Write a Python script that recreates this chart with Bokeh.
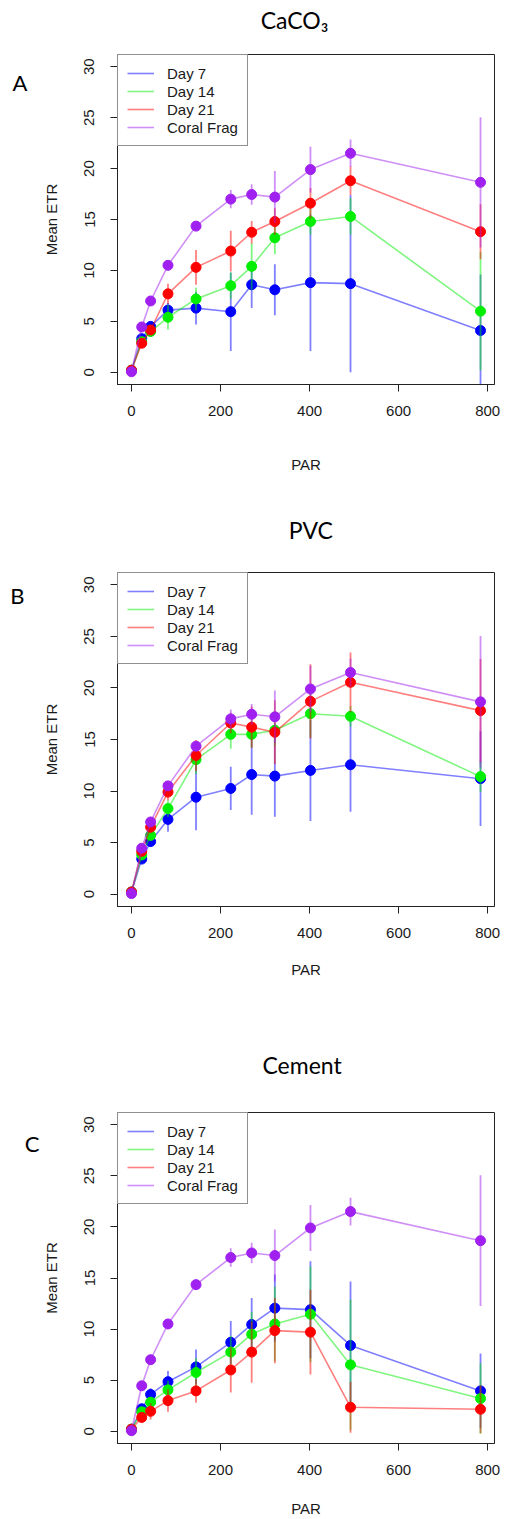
from bokeh.plotting import figure
from bokeh.models import Range1d, Legend, LegendItem, FixedTicker, LinearAxis
from bokeh.layouts import column
from bokeh.embed import file_html
from bokeh.resources import INLINE

# ---------------- data ----------------
PAR = [0, 23, 43, 82, 145, 223, 270, 322, 402, 492, 784]

coral = [0.05, 4.45, 7.0, 10.5, 14.35, 17.0, 17.45, 17.2, 19.9, 21.5, 18.65]
coral_sd = [0.05, 0.3, 0.3, 0.3, 0.3, 0.9, 1.0, 2.55, 2.25, 1.35, 6.4]

caco3_d7 = [0.2, 3.3, 4.5, 6.1, 6.3, 5.95, 8.6, 8.1, 8.8, 8.7, 4.1]
caco3_d7_sd = [0.1, 0.4, 0.5, 0.7, 1.6, 3.85, 2.3, 2.5, 6.7, 8.7, 5.5]
caco3_d14 = [0.2, 3.0, 4.0, 5.4, 7.2, 8.5, 10.4, 13.2, 14.8, 15.3, 6.0]
caco3_d14_sd = [0.1, 0.5, 0.5, 1.2, 1.1, 1.3, 2.3, 1.6, 1.3, 1.8, 5.8]
caco3_d21 = [0.2, 2.85, 4.15, 7.7, 10.3, 11.9, 13.75, 14.8, 16.6, 18.8, 13.8]
caco3_d21_sd = [0.1, 0.4, 0.4, 1.0, 1.7, 2.0, 1.1, 1.3, 1.5, 1.4, 2.7]

pvc_d7 = [0.2, 3.4, 5.1, 7.25, 9.4, 10.25, 11.6, 11.45, 12.0, 12.55, 11.2]
pvc_d7_sd = [0.1, 0.4, 0.5, 1.2, 3.2, 2.1, 3.9, 3.95, 4.9, 4.55, 4.6]
pvc_d14 = [0.2, 3.8, 5.7, 8.3, 13.05, 15.5, 15.5, 15.9, 17.5, 17.25, 11.4]
pvc_d14_sd = [0.1, 0.4, 0.5, 0.8, 1.4, 1.4, 1.3, 1.5, 2.3, 1.0, 1.5]
pvc_d21 = [0.2, 4.15, 6.5, 9.9, 13.45, 16.6, 16.2, 15.7, 18.7, 20.55, 17.8]
pvc_d21_sd = [0.1, 0.4, 0.6, 0.8, 1.5, 1.0, 2.0, 3.1, 3.6, 2.9, 5.0]

cem_d7 = [0.2, 2.2, 3.6, 4.85, 6.3, 8.7, 10.45, 12.05, 11.9, 8.4, 3.95]
cem_d7_sd = [0.1, 0.4, 0.6, 1.05, 1.7, 2.1, 2.6, 3.3, 4.75, 6.25, 3.65]
cem_d14 = [0.2, 1.9, 2.85, 4.05, 5.75, 7.75, 9.5, 10.5, 11.45, 6.5, 3.2]
cem_d14_sd = [0.1, 0.4, 0.5, 0.9, 1.4, 1.6, 2.2, 3.65, 4.7, 6.4, 3.45]
cem_d21 = [0.2, 1.35, 1.95, 3.0, 3.95, 6.0, 7.75, 9.85, 9.7, 2.35, 2.15]
cem_d21_sd = [0.1, 0.4, 0.8, 1.1, 1.15, 2.2, 3.0, 3.2, 4.15, 2.5, 2.35]

series_names = ["Day 7", "Day 14", "Day 21", "Coral Frag"]
series_colors = ["#0000FF", "#00EE00", "#FF0000", "#A020F0"]
x_ticks = [0, 200, 400, 600, 800]
y_ticks = [0, 5, 10, 15, 20, 25, 30]

X0, X1 = -31.4, 815.4
Y0, Y1 = -1.2, 31.2

FONT = "Liberation Sans"
TFONT = "Lato"
TXT = "#1a1a1a"
W = 508


def make_panel(H, page_top, frame, title, title_pos, title_standoff,
               letter, letter_pos, letter_standoff, data, par_standoff):
    fl, fr, ft, fb = frame  # frame edges in page coordinates
    p = figure(width=W, height=H, output_backend="svg", toolbar_location=None,
               x_range=Range1d(X0, X1), y_range=Range1d(Y0, Y1),
               min_border_left=fl, min_border_right=W - fr,
               min_border_top=ft - page_top, min_border_bottom=page_top + H - fb)
    p.title.visible = False
    p.grid.visible = False
    p.outline_line_color = "#222222"
    p.outline_line_width = 1
    p.background_fill_color = "white"
    p.border_fill_color = "white"

    p.xaxis.ticker = FixedTicker(ticks=x_ticks)
    p.yaxis.ticker = FixedTicker(ticks=y_ticks)
    for ax in (p.xaxis[0], p.yaxis[0]):
        ax.axis_line_color = "#222222"
        ax.major_tick_line_color = "#222222"
        ax.major_tick_out = 7
        ax.major_tick_in = 0
        ax.minor_tick_out = 0
        ax.minor_tick_in = 0
        ax.major_label_text_font = FONT
        ax.major_label_text_font_size = "15px"
        ax.major_label_text_color = TXT
        ax.axis_label_text_font = FONT
        ax.axis_label_text_font_size = "15px"
        ax.axis_label_text_font_style = "normal"
        ax.axis_label_text_color = TXT
    p.xaxis.major_label_standoff = 14
    p.yaxis.major_label_standoff = 16
    p.yaxis.major_label_orientation = "vertical"
    p.xaxis.axis_label = "PAR"
    p.yaxis.axis_label = "Mean ETR"
    p.xaxis.axis_label_standoff = par_standoff
    p.yaxis.axis_label_standoff = 22

    # panel title (centred text above the frame)
    tx_data = X0 + (title_pos[0] - fl) * (X1 - X0) / (fr - fl)
    tax = LinearAxis(ticker=FixedTicker(ticks=[tx_data]),
                     major_label_overrides={tx_data: title},
                     axis_line_color=None, major_tick_line_color=None,
                     minor_tick_line_color=None, major_tick_out=0, major_tick_in=0,
                     minor_tick_out=0, minor_tick_in=0,
                     major_label_standoff=title_standoff,
                     major_label_text_font=TFONT, major_label_text_font_size="23px",
                     major_label_text_color="black")
    p.add_layout(tax, "above")

    # panel letter (left of the y axis)
    ly_data = Y0 + (fb - letter_pos[1]) * (Y1 - Y0) / (fb - ft)
    lax = LinearAxis(ticker=FixedTicker(ticks=[ly_data]),
                     major_label_overrides={ly_data: letter},
                     axis_line_color=None, major_tick_line_color=None,
                     minor_tick_line_color=None, major_tick_out=0, major_tick_in=0,
                     minor_tick_out=0, minor_tick_in=0,
                     major_label_standoff=letter_standoff,
                     major_label_orientation="horizontal",
                     major_label_text_font=TFONT, major_label_text_font_size="22px",
                     major_label_text_color="black")
    p.add_layout(lax, "left")

    items = []
    for name, col, (ys, sd) in zip(series_names, series_colors, data):
        lo = [y - s for y, s in zip(ys, sd)]
        hi = [y + s for y, s in zip(ys, sd)]
        r = p.line(PAR, ys, line_color=col, line_alpha=0.5, line_width=1.6)
        p.segment(x0=PAR, y0=lo, x1=PAR, y1=hi, line_color=col, line_alpha=0.5,
                  line_width=1.8)
        p.scatter(PAR, ys, size=10, fill_color=col, line_color=col)
        items.append(LegendItem(label=name, renderers=[r]))

    leg = Legend(items=items, location="top_left", margin=0, padding=9,
                 spacing=0, label_height=18, glyph_height=18, glyph_width=27,
                 label_standoff=13, label_text_font=FONT,
                 label_text_font_size="15px", label_text_color=TXT,
                 border_line_color="#222222", border_line_width=1,
                 background_fill_color="white", background_fill_alpha=1.0)
    p.add_layout(leg)
    return p


pA = make_panel(490, 0, (115, 494, 54, 384), "CaCO\u2083", (293, 20), 21,
                "A", (20, 82), 12,
                [(caco3_d7, caco3_d7_sd), (caco3_d14, caco3_d14_sd),
                 (caco3_d21, caco3_d21_sd), (coral, coral_sd)], 37)
pB = make_panel(495, 490, (114, 500, 572, 906), "PVC", (312, 530), 29,
                "B", (17, 595), 15,
                [(pvc_d7, pvc_d7_sd), (pvc_d14, pvc_d14_sd),
                 (pvc_d21, pvc_d21_sd), (coral, coral_sd)], 20)
pC = make_panel(534, 985, (117, 503, 1112, 1444), "Cement", (306, 1065), 34,
                "C", (33, 1143), 0,
                [(cem_d7, cem_d7_sd), (cem_d14, cem_d14_sd),
                 (cem_d21, cem_d21_sd), (coral, coral_sd)], 22)

layout = column(pA, pB, pC, spacing=0)
open("out.html", "w").write(file_html(layout, INLINE))
